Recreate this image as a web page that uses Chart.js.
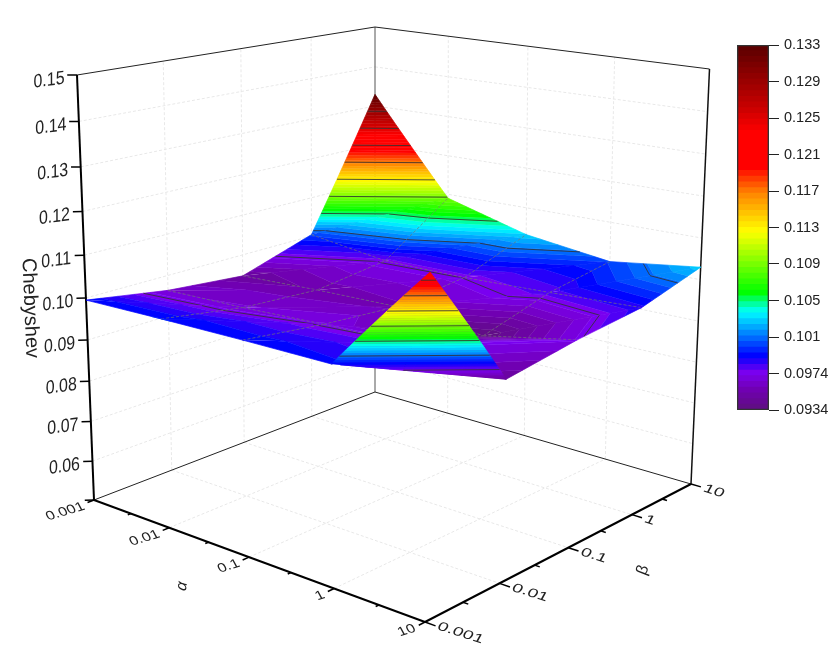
<!DOCTYPE html>
<html>
<head>
<meta charset="utf-8">
<title>Chebyshev surface</title>
<script src="https://cdn.jsdelivr.net/npm/chart.js@4"></script>
<style>
  html, body { margin: 0; padding: 0; background: #fff; }
  #wrap { position: relative; width: 830px; height: 649px; overflow: hidden; }
  #surface { position: absolute; left: 0; top: 0; }
  #colorbar { position: absolute; left: 730px; top: 30px; }
</style>
</head>
<body>
<div id="wrap">
  <canvas id="surface" width="830" height="649"></canvas>
  <canvas id="colorbar" width="100" height="395"></canvas>
</div>
<script>
// axis labels
const alphaLabels = ["0.001", "0.01", "0.1", "1", "10"];
const betaLabels = ["0.001", "0.01", "0.1", "1", "10"];
const zTicks = [0.05, 0.06, 0.07, 0.08, 0.09, 0.10, 0.11, 0.12, 0.13, 0.14, 0.15];
const zTickLabels = ["", "0.06", "0.07", "0.08", "0.09", "0.10", "0.11", "0.12", "0.13", "0.14", "0.15"];

// Chebyshev per alpha, one value per beta
const alpha001 = [0.0995, 0.0964, 0.0947, 0.1004, 0.1330];
const alpha01 = [0.0996, 0.0966, 0.0954, 0.0975, 0.1090];
const alpha1 = [0.0995, 0.0972, 0.0957, 0.0974, 0.1032];
const alpha10 = [0.0992, 0.0974, 0.0934, 0.0980, 0.1003];
const alpha100 = [0.1232, 0.0947, 0.0972, 0.0988, 0.1030];
const zRows = [alpha001, alpha01, alpha1, alpha10, alpha100];

// colour bar
const barLevels = [0.0934, 0.09736, 0.10132, 0.10528, 0.10924, 0.1132, 0.11716, 0.12112, 0.12508, 0.12904, 0.133];
const barLabels = ["0.0934", "0.0974", "0.101", "0.105", "0.109", "0.113", "0.117", "0.121", "0.125", "0.129", "0.133"];
const colorValues = [0.0934, 0.0955, 0.0974, 0.0992, 0.104, 0.1048, 0.1061, 0.1127, 0.117, 0.1197, 0.1235, 0.1262, 0.133];
const colorRgb = [[94, 15, 128], [112, 0, 176], [122, 0, 240], [0, 0, 255], [0, 255, 255], [0, 255, 170], [0, 255, 0],
  [255, 255, 0], [255, 128, 0], [255, 0, 0], [255, 0, 0], [200, 0, 0], [88, 0, 0]];
const bandCount = 64;

// box corners on the page, used to set up the 3D view
const floorCorners = [[94, 500], [425, 622], [375, 392], [691, 484]];
const roofCorners = [[77, 75], [432, 140], [375, 27], [709.5, 69]];
const zMin = 0.05, zMax = 0.15;

function quadMap(q) {
  const [p00, p10, p01, p11] = q;
  const dx1 = p10[0] - p11[0], dx2 = p01[0] - p11[0], sx = p00[0] - p10[0] + p11[0] - p01[0];
  const dy1 = p10[1] - p11[1], dy2 = p01[1] - p11[1], sy = p00[1] - p10[1] + p11[1] - p01[1];
  const den = dx1 * dy2 - dx2 * dy1;
  const g = (sx * dy2 - dx2 * sy) / den;
  const h = (dx1 * sy - sx * dy1) / den;
  return function (a, b) {
    const w = 1 + g * a + h * b;
    return [
      (p00[0] + (p10[0] - p00[0] + g * p10[0]) * a + (p01[0] - p00[0] + h * p01[0]) * b) / w,
      (p00[1] + (p10[1] - p00[1] + g * p10[1]) * a + (p01[1] - p00[1] + h * p01[1]) * b) / w
    ];
  };
}
const floorMap = quadMap(floorCorners);
const roofMap = quadMap(roofCorners);

// a, b in 0..1 along the axes, z in data units
function project(a, b, z) {
  const t = (z - zMin) / (zMax - zMin);
  const s = 0.906 + 0.064 * a; // vertical foreshortening
  const p = floorMap(a, b), q = roofMap(a, b);
  const d = (1 - t) + t * s;
  return { x: ((1 - t) * p[0] + t * s * q[0]) / d, y: ((1 - t) * p[1] + t * s * q[1]) / d };
}

function colorAt(v) {
  let i = 0;
  while (i < colorValues.length - 2 && v > colorValues[i + 1]) i++;
  const f = Math.min(1, Math.max(0, (v - colorValues[i]) / (colorValues[i + 1] - colorValues[i])));
  const c = colorRgb[i].map((n, k) => Math.round(n + (colorRgb[i + 1][k] - n) * f));
  return `rgb(${c[0]},${c[1]},${c[2]})`;
}

const datasets = [];
function addLine(points, color, width, dash) {
  datasets.push({
    data: points, showLine: true, fill: false, borderColor: color, borderWidth: width,
    borderDash: dash || [], pointRadius: 0, clip: false, order: -datasets.length
  });
}
function addShape(points, color) {
  datasets.push({
    data: points, showLine: true, fill: "shape", backgroundColor: color, borderColor: color, borderWidth: 0.7,
    pointRadius: 0, clip: false, order: -datasets.length
  });
}

// walls and floor
const gridColor = "#e8e8e8", gridDash = [3, 2];
const steps = [0.25, 0.5, 0.75];
zTicks.slice(1, -1).forEach(z => {
  addLine([project(0, 0, z), project(0, 1, z)], gridColor, 1, gridDash);
  addLine([project(0, 1, z), project(1, 1, z)], gridColor, 1, gridDash);
});
steps.forEach(u => {
  addLine([project(0, u, zMin), project(0, u, zMax)], gridColor, 1, gridDash);
  addLine([project(u, 1, zMin), project(u, 1, zMax)], gridColor, 1, gridDash);
  addLine([project(u, 0, zMin), project(u, 1, zMin)], gridColor, 1, gridDash);
  addLine([project(0, u, zMin), project(1, u, zMin)], gridColor, 1, gridDash);
});
addLine([project(0, 1, zMin), project(0, 1, zMax)], "#555", 1);
addLine([project(0, 0, zMax), project(0, 1, zMax)], "#222", 1);
addLine([project(0, 1, zMax), project(1, 1, zMax)], "#222", 1);
addLine([project(0, 0, zMin), project(0, 1, zMin)], "#222", 1);
addLine([project(0, 1, zMin), project(1, 1, zMin)], "#222", 1);
addLine([project(1, 1, zMin), project(1, 1, zMax)], "#111", 1.5);
addLine([project(0, 0, zMin), project(0, 0, zMax)], "#000", 2);
addLine([project(0, 0, zMin), project(1, 0, zMin)], "#000", 2);
addLine([project(1, 0, zMin), project(1, 1, zMin)], "#000", 2);

// ticks
zTicks.forEach(z => addLine([project(0, 0, z), project(-0.015, -0.015, z)], "#000", 1.5));
for (let k = 0; k <= 8; k++) {
  const u = k / 8, len = k % 2 ? 0.5 : 1;
  addLine([project(u, 0, zMin), project(u, -0.02 * len, zMin)], "#000", 1.5);
  addLine([project(1, u, zMin), project(1 + 0.028 * len, u, zMin)], "#000", 1.5);
}

// part of a triangle between two levels
function clipBand(tri, lo, hi) {
  let poly = tri;
  [[lo, 1], [hi, -1]].forEach(([lev, dir]) => {
    const out = [];
    poly.forEach((p, i) => {
      const q = poly[(i + 1) % poly.length];
      const dp = (p[2] - lev) * dir, dq = (q[2] - lev) * dir;
      if (dp >= 0) out.push(p);
      if (dp * dq < 0) {
        const f = dp / (dp - dq);
        out.push([p[0] + (q[0] - p[0]) * f, p[1] + (q[1] - p[1]) * f, lev]);
      }
    });
    poly = out;
  });
  return poly;
}

function drawFacet(tri) {
  const low = barLevels[0], high = barLevels[barLevels.length - 1];
  const step = (high - low) / bandCount;
  for (let n = 0; n < bandCount; n++) {
    // the lowest and highest band also take anything past the bar's range
    const lo = n === 0 ? -1 : low + n * step;
    const hi = n === bandCount - 1 ? 1 : low + (n + 1) * step;
    const poly = clipBand(tri, lo, hi);
    if (poly.length > 2) addShape(poly.map(p => project(p[0], p[1], p[2])), colorAt(low + (n + 0.5) * step));
  }
  barLevels.slice(1, -1).forEach(lev => {
    const seg = [];
    tri.forEach((p, i) => {
      const q = tri[(i + 1) % 3];
      if ((p[2] - lev) * (q[2] - lev) < 0) {
        const f = (lev - p[2]) / (q[2] - p[2]);
        seg.push(project(p[0] + (q[0] - p[0]) * f, p[1] + (q[1] - p[1]) * f, lev));
      }
    });
    if (seg.length === 2) addLine(seg, "rgba(50,50,50,0.85)", 1);
  });
}

// surface, back to front
const nA = zRows.length, nB = zRows[0].length;
const vert = (i, j) => [i / (nA - 1), j / (nB - 1), zRows[i][j]];
const meshColor = "rgba(115,115,115,0.75)", meshDash = [3, 2];
const edge = (p, q) => addLine([project(p[0], p[1], p[2]), project(q[0], q[1], q[2])], meshColor, 0.9, meshDash);
for (let i = 0; i < nA - 1; i++) {
  for (let j = nB - 2; j >= 0; j--) {
    drawFacet([vert(i, j), vert(i, j + 1), vert(i + 1, j + 1)]);
    if (i > 0) edge(vert(i, j), vert(i, j + 1));
    if (j + 1 < nB - 1) edge(vert(i, j + 1), vert(i + 1, j + 1));
    drawFacet([vert(i, j), vert(i + 1, j), vert(i + 1, j + 1)]);
  }
}

// rotated and foreshortened labels, as the 3D view has them
const axisText = {
  id: "axisText",
  afterDatasetsDraw(chart) {
    const ctx = chart.ctx;
    const sx = chart.scales.x, sy = chart.scales.y;
    function put(text, p, dx, dy, m, align, font) {
      ctx.save();
      ctx.translate(sx.getPixelForValue(p.x) + dx, sy.getPixelForValue(p.y) + dy);
      ctx.transform(m[0], m[1], m[2], m[3], 0, 0);
      ctx.font = font;
      ctx.fillStyle = "#222";
      ctx.textAlign = align;
      ctx.textBaseline = "middle";
      ctx.fillText(text, 0, 0);
      ctx.restore();
    }
    const face = '"Liberation Sans", Arial, sans-serif';
    zTicks.forEach((z, k) => {
      if (zTickLabels[k]) put(zTickLabels[k], project(0, 0, z), -28, 5.5, [0.84, -0.11, 0, 1], "center", "19px " + face);
    });
    alphaLabels.forEach((t, k) => {
      put(t, project(k / 4, 0, zMin), -10, 6, [1.0, -0.3, 0.42, 0.78], "right", "15px " + face);
    });
    betaLabels.forEach((t, k) => {
      put(t, project(1, k / 4, zMin), 13, 4, [1.2, 0.38, -0.4, 0.75], "left", "15px " + face);
    });
    put("Chebyshev", { x: 30, y: 308 }, 0, 0, [0.04, 1, -1, 0.04], "center", "20px " + face);
    put("α", { x: 182, y: 586 }, 0, 0, [0.1, -0.8, 0.8, 0.3], "center", "19px " + face);
    put("β", { x: 643, y: 570 }, 0, 0, [0.3, -0.8, 0.8, 0.3], "center", "19px " + face);
  }
};

new Chart(document.getElementById("surface").getContext("2d"), {
  type: "scatter",
  data: { datasets: datasets },
  options: {
    responsive: false,
    animation: false,
    events: [],
    layout: { padding: 0 },
    plugins: { legend: { display: false }, tooltip: { enabled: false } },
    scales: {
      x: { type: "linear", min: 0, max: 830, display: false },
      y: { type: "linear", min: 0, max: 649, reverse: true, display: false }
    }
  },
  plugins: [axisText]
});

// colour bar, stacked floating bands on a real value axis
const barDatasets = [];
const barStep = (barLevels[10] - barLevels[0]) / bandCount;
for (let n = 0; n < bandCount; n++) {
  const lo = barLevels[0] + n * barStep;
  barDatasets.push({ data: [[lo, lo + barStep * 1.02]], backgroundColor: colorAt(lo + barStep / 2), borderWidth: 0, order: 1 });
}
barDatasets.push({ data: [[barLevels[0], barLevels[10]]], backgroundColor: "rgba(0,0,0,0)", borderColor: "#333", borderWidth: 1, borderSkipped: false, order: 0 });

new Chart(document.getElementById("colorbar").getContext("2d"), {
  type: "bar",
  data: { labels: [""], datasets: barDatasets },
  options: {
    responsive: false,
    animation: false,
    events: [],
    layout: { padding: { left: 7, top: 15, bottom: 15 } },
    plugins: { legend: { display: false }, tooltip: { enabled: false } },
    datasets: { bar: { grouped: false, barPercentage: 1, categoryPercentage: 1 } },
    scales: {
      x: { display: false },
      y: {
        position: "right",
        min: barLevels[0],
        max: barLevels[10],
        afterFit: s => { s.width = 61; },
        afterBuildTicks: s => { s.ticks = barLevels.map(v => ({ value: v })); },
        border: { display: false },
        grid: { drawOnChartArea: false, tickLength: 10, color: "#222", tickWidth: 1 },
        ticks: {
          autoSkip: false, maxRotation: 0, padding: 5, color: "#222",
          font: { family: '"Liberation Sans", Arial, sans-serif', size: 14.5 },
          callback: (v, k) => barLabels[k]
        }
      }
    }
  }
});
</script>
</body>
</html>
